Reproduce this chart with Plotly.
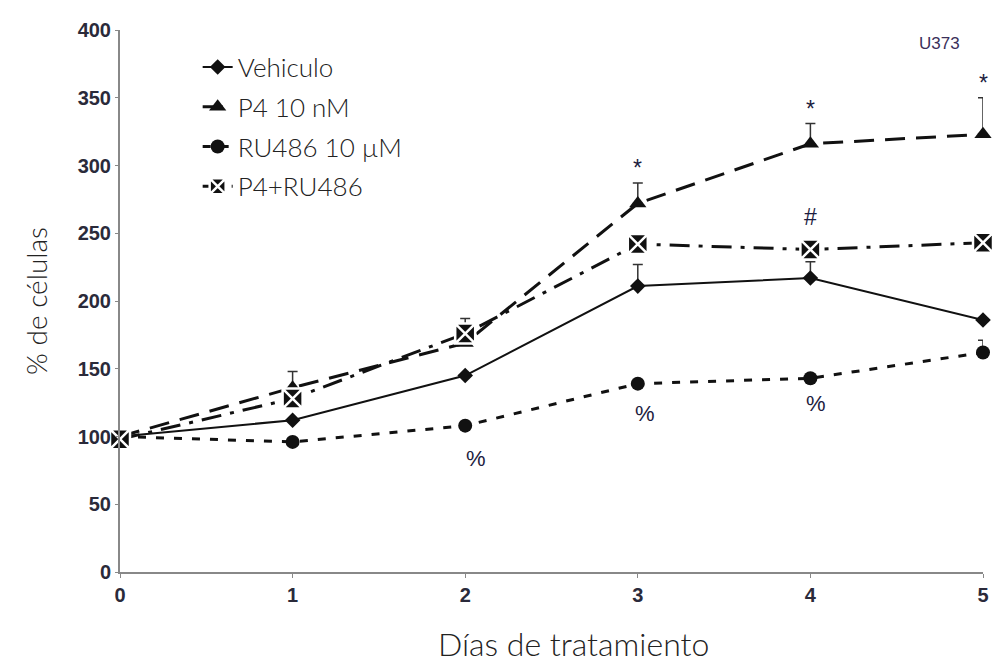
import plotly.graph_objects as go

days = [0, 1, 2, 3, 4, 5]
vehiculo = [100, 112, 145, 211, 217, 186]
vehiculo_err = [0, 0, 0, 16, 12, 0]
p4 = [100, 136, 169, 272, 316, 323]
p4_err = [0, 12, 0, 15, 15, 27]
ru486 = [100, 96, 108, 139, 143, 162]
ru486_err = [0, 0, 0, 0, 0, 9]
p4ru = [98, 128, 176, 242, 238, 243]
p4ru_err = [0, 0, 11, 0, 0, 0]

series_names = ["Vehiculo", "P4 10 nM", "RU486 10 µM", "P4+RU486"]

# significance marks: (day, y value, text)
sig_x = [3, 4, 5, 4, 2.06, 3.04, 4.03, 5.03]
sig_y = [298, 342, 361, 262, 84, 117, 124, 158]
sig_text = ["*", "*", "*", "#", "%", "%", "%", "%"]

thin = "Lato"
ink = "#111111"
tickfont = dict(family="Liberation Sans", size=20, color="#2a2a3a", weight="bold")

def err(vals):
    return dict(type="data", symmetric=False, array=vals, arrayminus=[0] * len(vals),
                color="#333333", thickness=1.5, width=5)

fig = go.Figure()
fig.add_trace(go.Scatter(
    x=days, y=vehiculo, name=series_names[0], mode="lines+markers",
    line=dict(color=ink, width=2, dash="solid"),
    marker=dict(symbol="diamond", size=12, color=ink),
    error_y=err(vehiculo_err), legendgroup="a", cliponaxis=False))
fig.add_trace(go.Scatter(
    x=days, y=p4, name=series_names[1], mode="lines+markers",
    line=dict(color=ink, width=3, dash="20px,11px"),
    marker=dict(symbol="triangle-up", size=15, color=ink),
    error_y=err(p4_err), legendgroup="b", cliponaxis=False))
fig.add_trace(go.Scatter(
    x=days, y=ru486, name=series_names[2], mode="lines+markers",
    line=dict(color=ink, width=3, dash="8px,10px"),
    marker=dict(symbol="circle", size=14, color=ink),
    error_y=err(ru486_err), legendgroup="c", cliponaxis=False))
fig.add_trace(go.Scatter(
    x=days, y=p4ru, name=series_names[3], mode="lines+markers",
    line=dict(color=ink, width=3, dash="20px,9px,4px,9px"),
    marker=dict(symbol="square-x", size=20, color=ink,
                line=dict(color="white", width=2.5)),
    error_y=err(p4ru_err), legendgroup="d", cliponaxis=False))

for sx, sy, st in zip(sig_x, sig_y, sig_text):
    fig.add_annotation(x=sx, y=sy, text=st, showarrow=False,
                       font=dict(family="Liberation Sans", size=23 if st != "%" else 22,
                                 color="#1c1c40"))

fig.add_annotation(x=0.95, y=0.997, xref="paper", yref="paper", text="U373",
                   xanchor="center", showarrow=False,
                   font=dict(family="Liberation Sans", size=17, color="#3a2f5a"))

# x-axis title
fig.add_annotation(x=0.525, y=-0.132, xref="paper", yref="paper", text="Días de tratamiento",
                   xanchor="center", yanchor="middle", showarrow=False,
                   font=dict(family=thin, size=32, color="#222222", weight=300))

fig.update_layout(
    width=992, height=664,
    margin=dict(l=120, r=9, t=30, b=92),
    plot_bgcolor="white", paper_bgcolor="white",
    showlegend=True,
    legend=dict(x=0.09, y=0.975, xanchor="left", yanchor="top",
                font=dict(family=thin, size=26, color="#222222", weight=300),
                tracegroupgap=3, bgcolor="rgba(0,0,0,0)"),
    xaxis=dict(range=[0, 5], tickvals=days, ticktext=[str(d) for d in days],
               showline=True, linecolor="#888888", linewidth=2, ticks="outside",
               ticklen=4, tickcolor="#888888", showgrid=False, zeroline=False,
               tickfont=tickfont, automargin=False),
    yaxis=dict(range=[0, 400], tickvals=[0, 50, 100, 150, 200, 250, 300, 350, 400],
               showline=True, linecolor="#888888", linewidth=2, ticks="outside",
               ticklen=3, tickcolor="#888888", showgrid=False, zeroline=False,
               tickfont=tickfont, automargin=False,
               title=dict(text="% de células", standoff=22,
                          font=dict(family=thin, size=28, color="#222222", weight=300))),
)

fig.write_html("out.html")
